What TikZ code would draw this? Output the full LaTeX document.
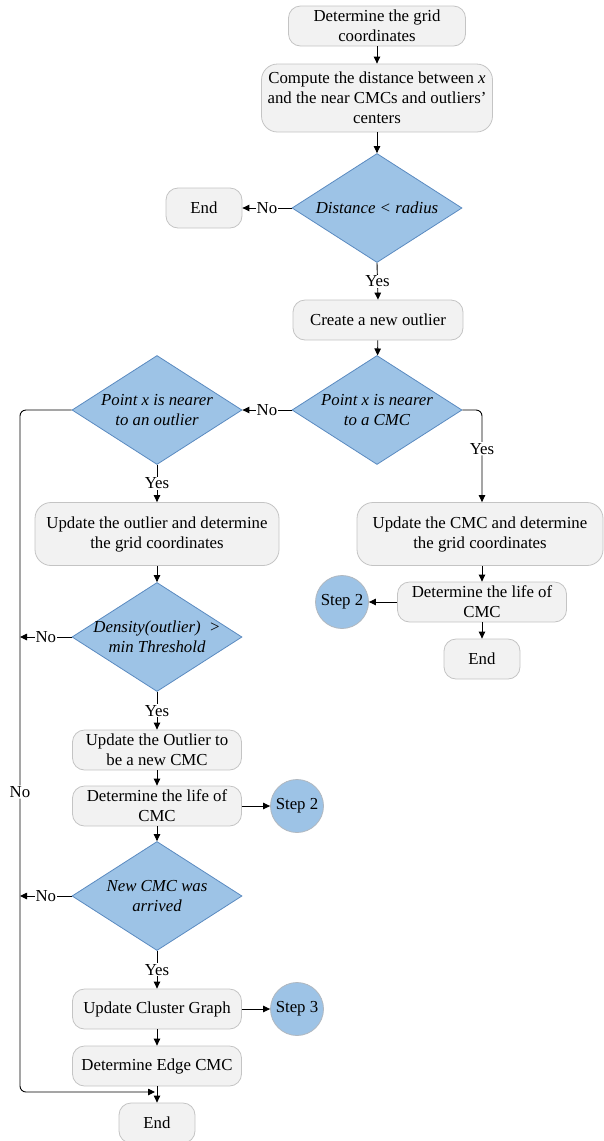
\documentclass[tikz,border=0pt]{standalone}
\usepackage{fontspec}
\setmainfont{Liberation Serif}
\usetikzlibrary{shapes.geometric,arrows.meta}
\definecolor{boxfill}{HTML}{F2F2F2}
\definecolor{boxline}{HTML}{C4C4C4}
\definecolor{dfill}{HTML}{9DC3E6}
\definecolor{dline}{HTML}{5A8AC0}
\definecolor{circline}{HTML}{B0B8C0}
\begin{document}
\begin{tikzpicture}[x=1pt,y=-1pt,
  font=\fontsize{16.8}{20}\selectfont,
  box/.style={draw=boxline, fill=boxfill, rounded corners=12pt, align=center, inner sep=0pt, line width=0.8pt},
  dia/.style={diamond, draw=dline, fill=dfill, inner sep=0pt, minimum width=170pt, minimum height=109pt, line width=0.8pt},
  dtext/.style={align=center, font=\fontsize{16.8}{20}\selectfont\itshape},
  circ/.style={circle, draw=circline, fill=dfill, minimum size=53pt, inner sep=0pt, line width=0.8pt},
  arr/.style={-{Triangle[length=7pt,width=6.5pt]}, line width=0.9pt},
  lab/.style={fill=white, inner sep=1pt}]
\useasboundingbox (0,0) rectangle (604,1141);

\node[box, minimum width=177pt, minimum height=40pt] (n1) at (377,26) {Determine the grid\\coordinates};
\node[box, minimum width=231pt, minimum height=68pt, rounded corners=16pt] (n2) at (377,98) {Compute the distance between \textit{x}\\and the near CMCs and outliers'\\centers};
\node[dia] (d1) at (377,208) {};
\node[dtext] at (d1) {Distance < radius};
\node[box, minimum width=76pt, minimum height=40pt] (end1) at (204,208) {End};
\node[box, minimum width=170pt, minimum height=40pt] (n3) at (378,320) {Create a new outlier};
\node[dia] (d2) at (377,410) {};
\node[dtext] at (d2) {Point x is nearer\\to a CMC};
\node[dia] (d3) at (157,410) {};
\node[dtext] at (d3) {Point x is nearer\\to an outlier};
\node[box, minimum width=244pt, minimum height=63pt, rounded corners=16pt] (n4) at (157,534) {Update the outlier and determine\\the grid coordinates};
\node[box, minimum width=246pt, minimum height=63pt, rounded corners=16pt] (n5) at (480,534) {Update the CMC and determine\\the grid coordinates};
\node[box, minimum width=169pt, minimum height=40pt] (n6) at (482,602) {Determine the life of\\CMC};
\node[circ] (s1) at (342,602) {Step 2};
\node[box, minimum width=76pt, minimum height=40pt] (end2) at (482,659) {End};
\node[dia] (d4) at (157,637) {};
\node[dtext] at (d4) {Density(outlier)\ \ >\\min Threshold};
\node[box, minimum width=169pt, minimum height=40pt] (n7) at (157,750) {Update the Outlier to\\be a new CMC};
\node[box, minimum width=169pt, minimum height=40pt] (n8) at (157,806) {Determine the life of\\CMC};
\node[circ] (s2) at (297,806) {Step 2};
\node[dia] (d5) at (157,896) {};
\node[dtext] at (d5) {New CMC was\\arrived};
\node[box, minimum width=169pt, minimum height=40pt] (n9) at (157,1009) {Update Cluster Graph};
\node[circ] (s3) at (297,1009) {Step 3};
\node[box, minimum width=169pt, minimum height=40pt] (n10) at (157,1066) {Determine Edge CMC};
\node[box, minimum width=76pt, minimum height=40pt] (end3) at (157,1123) {End};

\coordinate (l1) at (20,637);
\coordinate (l2) at (20,896);
\coordinate (j) at (155,1092);

\draw[arr] (n1) -- (n2);
\draw[arr] (n2) -- (d1);
\draw[arr] (d1.west) -- node[lab]{No} (end1);
\draw[arr] (d1.south) -- node[lab]{Yes} (n3.north);
\draw[arr] (n3) -- (d2);
\draw[arr] (d2.west) -- node[lab]{No} (d3.east);
\draw[arr, rounded corners=6pt] (d2.east) -| node[lab, pos=0.71]{Yes} (n6.north |- n5.north);
\draw[arr] (d3.south) -- node[lab]{Yes} (n4.north);
\draw[arr] (n4) -- (d4);
\draw[arr] (n6.north |- n5.south) -- (n6.north);
\draw[arr] (n6) -- (end2);
\draw[arr] (n6) -- (s1);
\draw[arr] (d4.south) -- node[lab]{Yes} (n7.north);
\draw[arr] (n7) -- (n8);
\draw[arr] (n8) -- (s2);
\draw[arr] (n8) -- (d5);
\draw[arr] (d5.south) -- node[lab]{Yes} (n9.north);
\draw[arr] (n9) -- (s3);
\draw[arr] (n9) -- (n10);
\draw[arr] (n10) -- (end3);
\draw[arr, rounded corners=6pt] (d3.west) -- (20,410) -- node[lab, pos=0.56]{No} (20,1092) -- (j);
\draw[arr] (d4.west) -- node[lab]{No} (l1);
\draw[arr] (d5.west) -- node[lab]{No} (l2);
\end{tikzpicture}
\end{document}
